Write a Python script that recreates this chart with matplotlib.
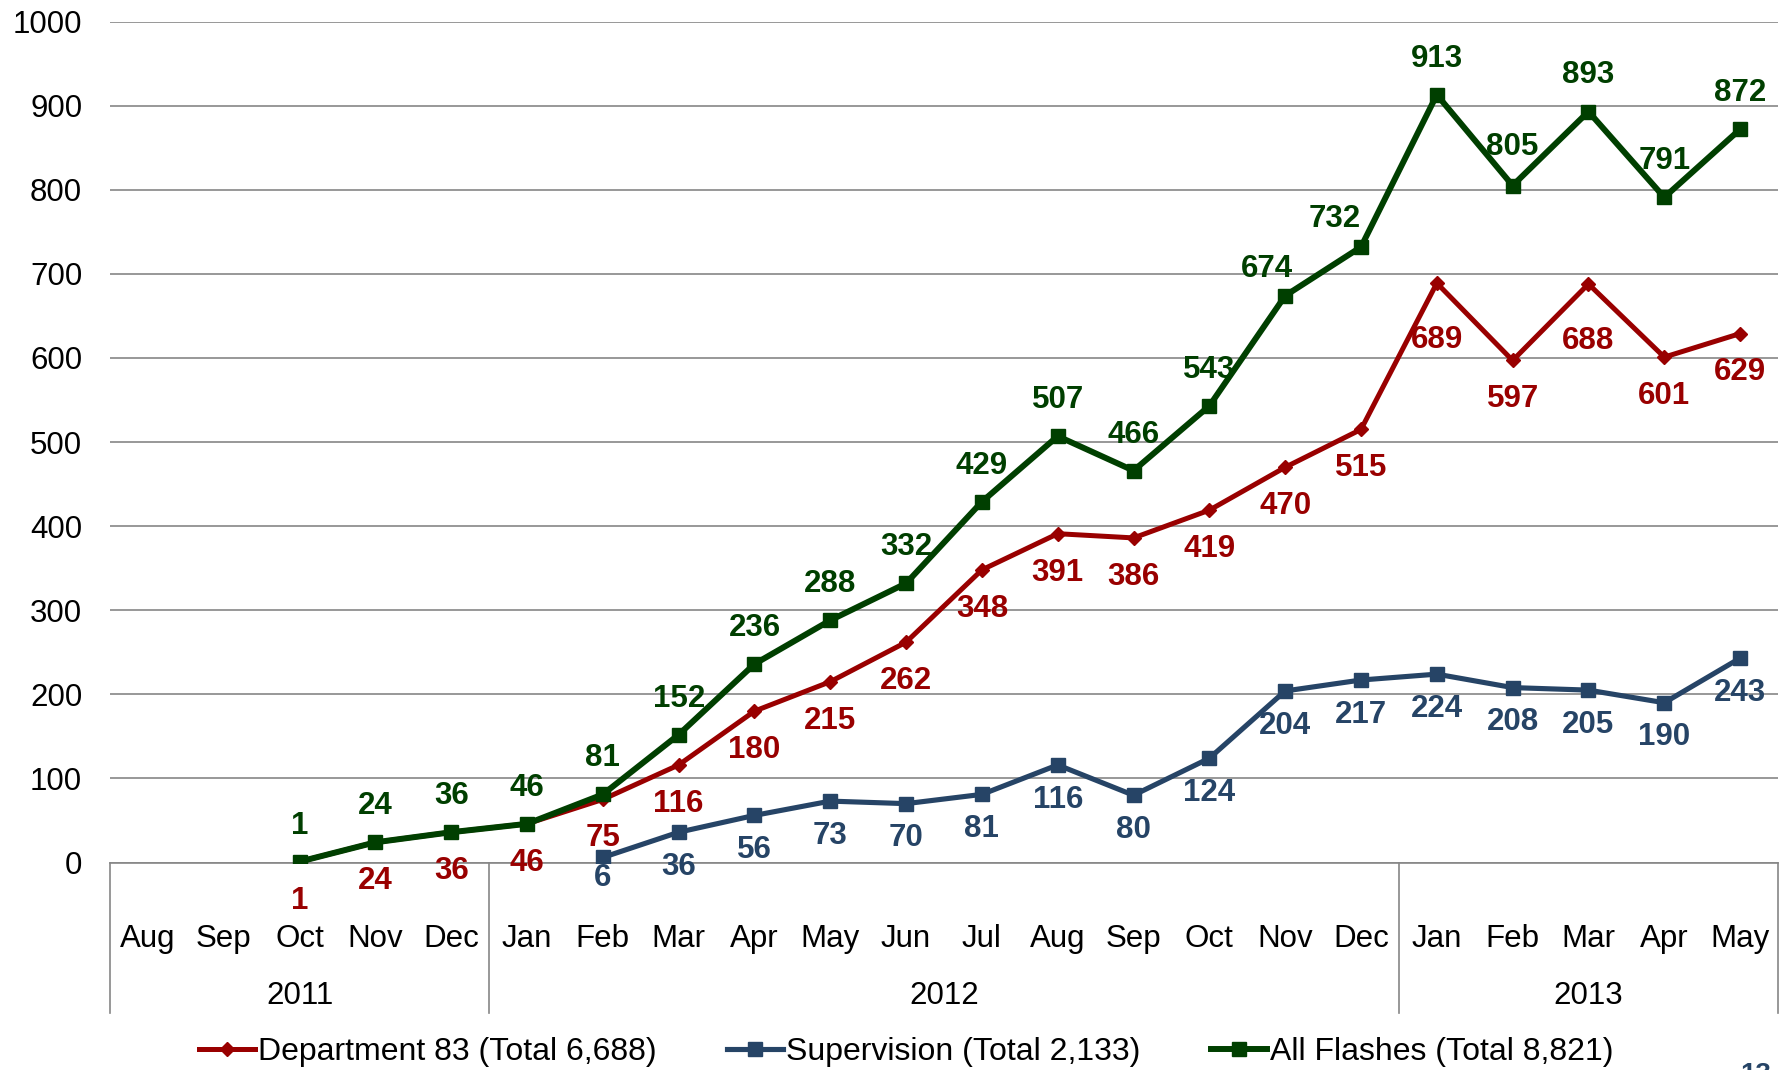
import numpy as np
import matplotlib.pyplot as plt
from matplotlib.lines import Line2D
import matplotlib.transforms as mtransforms

plt.rcParams['font.family'] = ['Liberation Sans', 'DejaVu Sans']

months = ['Aug', 'Sep', 'Oct', 'Nov', 'Dec',
          'Jan', 'Feb', 'Mar', 'Apr', 'May', 'Jun', 'Jul', 'Aug', 'Sep', 'Oct', 'Nov', 'Dec',
          'Jan', 'Feb', 'Mar', 'Apr', 'May']
years = ['2011', '2012', '2013']
year_counts = [5, 12, 5]

# Series start at Oct 2011 (index 2) and Feb 2012 (index 6)
dept83 = [1, 24, 36, 46, 75, 116, 180, 215, 262, 348, 391, 386, 419, 470, 515,
          689, 597, 688, 601, 629]
supervision = [6, 36, 56, 73, 70, 81, 116, 80, 124, 204, 217, 224, 208, 205, 190, 243]
all_flashes = [1, 24, 36, 46, 81, 152, 236, 288, 332, 429, 507, 466, 543, 674, 732,
               913, 805, 893, 791, 872]

names = ['Department 83 (Total 6,688)', 'Supervision (Total 2,133)', 'All Flashes (Total 8,821)']
colors = ['#990000', '#264466', '#003f00']
styles = [dict(lw=3.6, marker='D', ms=7.5),
          dict(lw=3.7, marker='s', ms=9.5),
          dict(lw=4.3, marker='s', ms=9.5)]

fig = plt.figure(figsize=(17.84, 10.70), dpi=100)
ax = fig.add_axes([110 / 1784, 1 - 862.5 / 1070, (1778 - 110) / 1784, (862.5 - 21.6) / 1070])

x_d = np.arange(2, 2 + len(dept83))
x_s = np.arange(6, 6 + len(supervision))
x_a = np.arange(2, 2 + len(all_flashes))

ax.plot(x_d, dept83, color=colors[0], zorder=3, **styles[0])
ax.plot(x_s, supervision, color=colors[1], zorder=3, **styles[1])
ax.plot(x_a, all_flashes, color=colors[2], zorder=4, **styles[2])

lab_kw = dict(textcoords='offset points', ha='center', va='center',
              fontsize=22.5, fontweight='bold')
# data labels
for x, v in zip(x_d, dept83):
    dy = -41 if v in (689, 688) else -28
    ax.annotate(str(v), (x, v), xytext=(0, dy), color=colors[0], **lab_kw)
for x, v in zip(x_s, supervision):
    dy = -15 if v == 6 else -25
    ax.annotate(str(v), (x, v), xytext=(0, dy), color=colors[1], **lab_kw)
for x, v in zip(x_a, all_flashes):
    dx, dy = 0, 26
    if v == 674:
        dx, dy = -13, 19
    elif v == 732:
        dx, dy = -19, 20
    elif v == 805:
        dy = 28
    ax.annotate(str(v), (x, v), xytext=(dx, dy), color=colors[2], **lab_kw)

ax.set_xlim(-0.5, len(months) - 0.5)
ax.set_ylim(0, 1000)
ax.set_yticks(np.arange(0, 1001, 100))
ax.tick_params(axis='y', length=0, pad=20, labelsize=22.5)
ax.set_xticks([])
ax.yaxis.grid(True, color='#868686', lw=1.2)
ax.set_axisbelow(True)
for s in ['top', 'right', 'left']:
    ax.spines[s].set_visible(False)
ax.spines['bottom'].set_color('#868686')
ax.spines['bottom'].set_linewidth(1.2)

# category axis: months, years and separator lines
trans = mtransforms.blended_transform_factory(ax.transData, fig.transFigure)
for i, m in enumerate(months):
    ax.text(i, 1 - 939 / 1070, m, transform=trans, ha='center', va='center', fontsize=22.5)
start = 0
for y, n in zip(years, year_counts):
    ax.text(start - 0.5 + n / 2, 1 - 996 / 1070, y, transform=trans,
            ha='center', va='center', fontsize=22.5)
    start += n
seps = [-0.5] + list(np.cumsum(year_counts) - 0.5)
for s in seps:
    fig.add_artist(Line2D([s, s], [1 - 862.5 / 1070, 1 - 1013 / 1070], transform=trans,
                          color='#868686', lw=1.2))

handles = [Line2D([], [], color=c, **st) for c, st in zip(colors, styles)]
fig.legend(handles, names, loc='center', bbox_to_anchor=(0.508, 1 - 1052 / 1070),
           ncol=3, frameon=False, fontsize=23, handlelength=1.75, handletextpad=0.1,
           columnspacing=2.2, borderpad=0)

# page number cut off at the bottom edge
fig.text(0.984, 1 - 1062 / 1070, '13', color=colors[1], fontsize=20, fontweight='bold',
         ha='center', va='top')

fig.savefig('out.png', dpi=100)
